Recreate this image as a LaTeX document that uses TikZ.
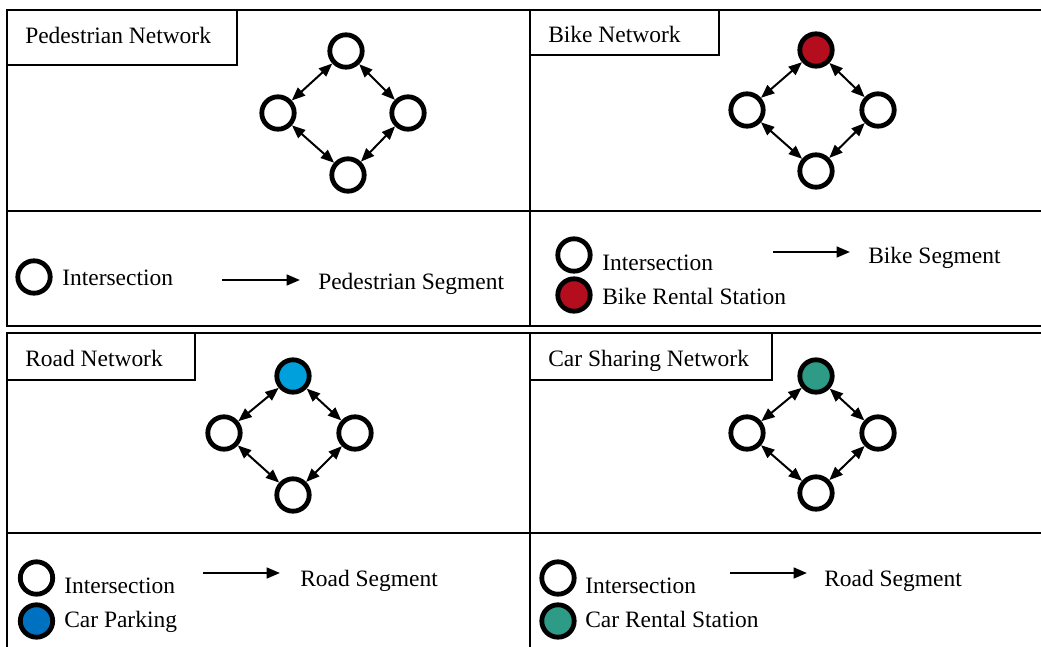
\documentclass[tikz,border=0pt]{standalone}
\usepackage{fontspec}
\setmainfont{Liberation Serif}
\usetikzlibrary{arrows.meta}
\definecolor{bikered}{RGB}{180,14,30}
\definecolor{roadblue}{RGB}{0,160,220}
\definecolor{parkblue}{RGB}{0,112,192}
\definecolor{cargreen}{RGB}{46,155,134}
\tikzset{
  panel/.style={draw=black, line width=1.5pt},
  inter/.style={circle, draw=black, line width=3.6pt, fill=white, minimum size=24.3pt, inner sep=0pt},
  link/.style={line width=1.5pt, {Triangle[length=10pt,width=8pt]}-{Triangle[length=10pt,width=8pt]}},
  legarrow/.style={line width=1.8pt, -{Triangle[length=10pt,width=8pt]}},
  txt/.style={anchor=base west, inner sep=0pt, font=\fontsize{17.6}{20}\selectfont},
}
\begin{document}
\begin{tikzpicture}[x=0.75pt, y=-0.75pt]
\useasboundingbox (0,0) rectangle (1041,646);
\clip (0,0) rectangle (1041,646);
\fill[white] (0,0) rectangle (1041,646);

% ---------- panels ----------
\draw[panel] (7,9.5) rectangle (530,211);
\draw[panel] (7,211) rectangle (530,326);
\draw[panel] (530,10) rectangle (1050,211);
\draw[panel] (530,211) rectangle (1050,326);
\draw[panel] (7,333) rectangle (530,533);
\draw[panel] (7,533) rectangle (530,660);
\draw[panel] (530,333) rectangle (1050,533);
\draw[panel] (530,533) rectangle (1050,660);

% ---------- title boxes ----------
\draw[panel] (7,9.5) rectangle (237,65);
\node[txt] (tped) at (25,43) {Pedestrian Network};
\draw[panel] (530,10) rectangle (719,55);
\node[txt] (tbike) at (548,42) {Bike Network};
\draw[panel] (7,333) rectangle (195,380);
\node[txt] (troad) at (25,366) {Road Network};
\draw[panel] (530,333) rectangle (772,380);
\node[txt] (tcar) at (548,366) {Car Sharing Network};

% ---------- pedestrian graph ----------
\node[inter] (p1) at (346,51) {};
\node[inter] (p2) at (278,113) {};
\node[inter] (p3) at (408,113) {};
\node[inter] (p4) at (348,175) {};
\draw[link] (p1) -- (p2);
\draw[link] (p1) -- (p3);
\draw[link] (p2) -- (p4);
\draw[link] (p3) -- (p4);

% ---------- bike graph ----------
\node[inter, fill=bikered] (b1) at (816,50) {};
\node[inter] (b2) at (747,110) {};
\node[inter] (b3) at (878,110) {};
\node[inter] (b4) at (816,171) {};
\draw[link] (b1) -- (b2);
\draw[link] (b1) -- (b3);
\draw[link] (b2) -- (b4);
\draw[link] (b3) -- (b4);

% ---------- road graph ----------
\node[inter, fill=roadblue] (r1) at (293,376) {};
\node[inter] (r2) at (224,433) {};
\node[inter] (r3) at (355,433) {};
\node[inter] (r4) at (293,495) {};
\draw[link] (r1) -- (r2);
\draw[link] (r1) -- (r3);
\draw[link] (r2) -- (r4);
\draw[link] (r3) -- (r4);

% ---------- car sharing graph ----------
\node[inter, fill=cargreen] (c1) at (816,376) {};
\node[inter] (c2) at (747,433) {};
\node[inter] (c3) at (878,433) {};
\node[inter] (c4) at (816,493) {};
\draw[link] (c1) -- (c2);
\draw[link] (c1) -- (c3);
\draw[link] (c2) -- (c4);
\draw[link] (c3) -- (c4);

% ---------- pedestrian legend ----------
\node[inter] (pl1) at (34,277) {};
\node[txt] (plt1) at (62,285) {Intersection};
\coordinate (pa1) at (222,280);
\coordinate (pa2) at (300,280);
\draw[legarrow] (pa1) -- (pa2);
\node[txt] (plt2) at (318,289) {Pedestrian Segment};

% ---------- bike legend ----------
\node[inter] (bl1) at (574,255) {};
\node[inter, fill=bikered] (bl2) at (574,295) {};
\node[txt] (blt1) at (602,270) {Intersection};
\node[txt] (blt2) at (602,304) {Bike Rental Station};
\coordinate (ba1) at (773,252);
\coordinate (ba2) at (850,252);
\draw[legarrow] (ba1) -- (ba2);
\node[txt] (blt3) at (868,263) {Bike Segment};

% ---------- road legend ----------
\node[inter] (rl1) at (36.5,578) {};
\node[inter, fill=parkblue] (rl2) at (36.5,621) {};
\node[txt] (rlt1) at (64,593) {Intersection};
\node[txt] (rlt2) at (64,627) {Car Parking};
\coordinate (ra1) at (203,573);
\coordinate (ra2) at (280,573);
\draw[legarrow] (ra1) -- (ra2);
\node[txt] (rlt3) at (300,586) {Road Segment};

% ---------- car sharing legend ----------
\node[inter] (cl1) at (558,578) {};
\node[inter, fill=cargreen] (cl2) at (558,621) {};
\node[txt] (clt1) at (585,593) {Intersection};
\node[txt] (clt2) at (585,627) {Car Rental Station};
\coordinate (ca1) at (730,573);
\coordinate (ca2) at (807,573);
\draw[legarrow] (ca1) -- (ca2);
\node[txt] (clt3) at (824,586) {Road Segment};
\end{tikzpicture}
\end{document}
